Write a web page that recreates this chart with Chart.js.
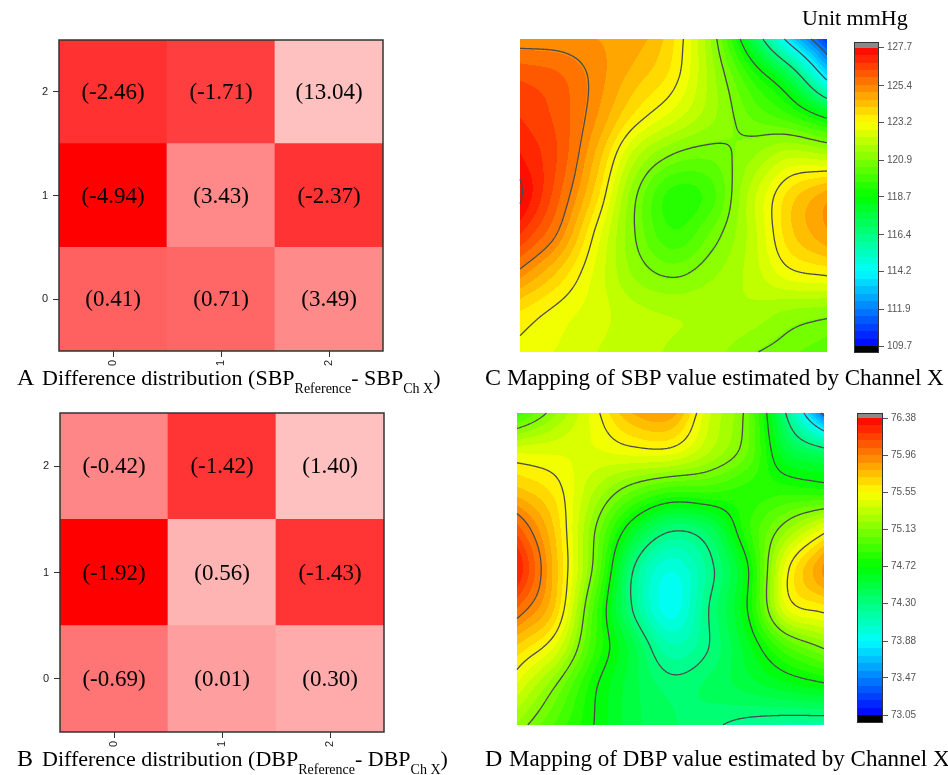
<!DOCTYPE html>
<html>
<head>
<meta charset="utf-8">
<script src="https://cdn.jsdelivr.net/npm/chart.js@4.4.1/dist/chart.umd.min.js"></script>
<style>
  body { margin: 0; background: #fff; }
  #wrap { position: relative; width: 948px; height: 775px; overflow: hidden; }
  canvas { position: absolute; }
  .cap { position: absolute; font-family: 'Liberation Serif', 'Times New Roman', serif; font-size: 22px; line-height: 22px; white-space: nowrap; color: #000; }
  .cap sub { font-size: 14px; vertical-align: -8px; line-height: 0; }
  .big { font-size: 24px; line-height: 24px; }
  .wide { font-size: 23px; line-height: 23px; }
</style>
</head>
<body>
<div id="wrap">
  <canvas id="heatA" width="400" height="375" style="left:0;top:0"></canvas>
  <canvas id="heatB" width="400" height="375" style="left:0;top:380px"></canvas>
  <canvas id="mapC" width="340" height="370" style="left:500px;top:0"></canvas>
  <canvas id="mapD" width="340" height="370" style="left:500px;top:380px"></canvas>
  <canvas id="barC" width="108" height="370" style="left:840px;top:0"></canvas>
  <canvas id="barD" width="108" height="370" style="left:840px;top:380px"></canvas>
  <div class="cap" style="left:802px;top:7px">Unit mmHg</div>
  <div class="cap big" style="left:17px;top:365px">A</div>
  <div class="cap" style="left:42px;top:367px">Difference distribution (SBP<sub>Reference</sub>- SBP<sub>Ch X</sub>)</div>
  <div class="cap big" style="left:485px;top:365px">C</div>
  <div class="cap wide" style="left:507px;top:366px">Mapping of SBP value estimated by Channel X</div>
  <div class="cap big" style="left:17px;top:746px">B</div>
  <div class="cap" style="left:42px;top:748px">Difference distribution (DBP<sub>Reference</sub>- DBP<sub>Ch X</sub>)</div>
  <div class="cap big" style="left:485px;top:746px">D</div>
  <div class="cap wide" style="left:509px;top:747px">Mapping of DBP value estimated by Channel X</div>
</div>
<script>
// channel positions (both axes of the heat maps)
var cells = ['0', '1', '2'];

// difference per cell, row 0 (bottom) first, columns 0..2
var sbpDiff = [
  [0.41, 0.71, 3.49],
  [-4.94, 3.43, -2.37],
  [-2.46, -1.71, 13.04]
];
var dbpDiff = [
  [-0.69, 0.01, 0.30],
  [-1.92, 0.56, -1.43],
  [-0.42, -1.42, 1.40]
];

// estimated values, rows from top to bottom, columns left to right
var gridPos = [0, 0.125, 0.25, 0.375, 0.5, 0.625, 0.75, 0.875, 1];
var sbpMap = [
  [125.1, 125.1, 125.0, 124.8, 123.7, 121.3, 117.7, 113.8, 110.6],
  [126.3, 126.0, 125.2, 124.3, 123.4, 121.6, 119.6, 117.6, 114.0],
  [126.8, 126.2, 125.0, 123.5, 122.5, 121.5, 120.5, 119.8, 118.6],
  [127.3, 126.3, 124.4, 122.0, 120.8, 120.6, 121.3, 122.2, 122.0],
  [127.8, 126.0, 123.8, 121.0, 119.4, 119.9, 122.0, 123.8, 124.8],
  [126.8, 125.3, 123.0, 120.9, 119.7, 120.6, 122.0, 123.9, 124.9],
  [125.2, 124.0, 122.6, 121.3, 120.8, 121.3, 122.0, 123.0, 123.3],
  [123.6, 123.0, 122.5, 122.0, 121.8, 121.8, 121.7, 121.3, 121.1],
  [123.0, 122.7, 122.3, 122.0, 121.8, 121.6, 121.0, 120.6, 120.2]
];
var dbpMap = [
  [74.90, 75.20, 75.50, 75.80, 75.85, 75.40, 75.08, 74.30, 73.40],
  [75.45, 75.45, 75.45, 75.50, 75.50, 75.30, 75.05, 74.55, 74.38],
  [75.75, 75.60, 75.30, 75.05, 74.90, 74.90, 74.85, 74.85, 74.82],
  [76.10, 75.70, 75.15, 74.62, 74.32, 74.42, 74.85, 75.20, 75.50],
  [76.30, 75.75, 75.10, 74.32, 73.98, 74.25, 74.70, 75.50, 75.90],
  [76.05, 75.70, 74.95, 74.30, 73.92, 74.30, 74.72, 75.45, 75.60],
  [75.70, 75.45, 74.90, 74.50, 74.15, 74.30, 74.60, 74.95, 75.15],
  [75.45, 75.13, 74.75, 74.50, 74.35, 74.40, 74.50, 74.60, 74.68],
  [75.20, 74.95, 74.72, 74.50, 74.40, 74.33, 74.25, 74.20, 74.18]
];

// colour bar ticks (also the contour levels)
var sbpTicks = [109.7, 111.9, 114.2, 116.4, 118.7, 120.9, 123.2, 125.4, 127.7];
var dbpTicks = [73.05, 73.47, 73.88, 74.30, 74.72, 75.13, 75.55, 75.96, 76.38];

var stops = [[0, 0, 255], [0, 255, 255], [0, 255, 0], [255, 255, 0], [255, 0, 0]];
function rainbow(t) {
  t = Math.min(Math.max(t, 0), 0.9999);
  t = (Math.floor(t * 40) + 0.5) / 40 * 4;
  var k = Math.min(Math.floor(t), 3), f = t - k;
  return stops[k].map(function (c, m) { return Math.round(c + (stops[k + 1][m] - c) * f); });
}

function cr(p0, p1, p2, p3, t) {
  return p1 + 0.5 * t * (p2 - p0 + t * (2 * p0 - 5 * p1 + 4 * p2 - p3 + t * (3 * (p1 - p2) + p3 - p0)));
}
function sample(g, u, w) {
  var n = g.length - 1;
  var step = gridPos[1] - gridPos[0];
  var fx = Math.min(Math.max(u / step, 0), n), fy = Math.min(Math.max(w / step, 0), n);
  var i = Math.min(Math.floor(fx), n - 1), j = Math.min(Math.floor(fy), n - 1);
  function at(r, c) {
    if (r < 0) return 2 * at(0, c) - at(1, c);
    if (r > n) return 2 * at(n, c) - at(n - 1, c);
    if (c < 0) return 2 * g[r][0] - g[r][1];
    if (c > n) return 2 * g[r][n] - g[r][n - 1];
    return g[r][c];
  }
  var rows = [];
  for (var k = -1; k <= 2; k++) {
    rows.push(cr(at(j + k, i - 1), at(j + k, i), at(j + k, i + 1), at(j + k, i + 2), fx - i));
  }
  return cr(rows[0], rows[1], rows[2], rows[3], fy - j);
}

function fieldPlugin(grid, levels) {
  var lo = levels[0], hi = levels[levels.length - 1];
  return {
    id: 'field',
    beforeDatasetsDraw: function (chart) {
      var ctx = chart.ctx, a = chart.chartArea, xs = chart.scales.x, ys = chart.scales.y;
      var x0 = Math.round(a.left), y0 = Math.round(a.top);
      var W = Math.round(a.right) - x0, H = Math.round(a.bottom) - y0;
      var f = new Float32Array((W + 1) * (H + 1));
      for (var j = 0; j <= H; j++) {
        for (var i = 0; i <= W; i++) {
          f[j * (W + 1) + i] = sample(grid, xs.getValueForPixel(x0 + i), ys.getValueForPixel(y0 + j));
        }
      }
      var img = ctx.createImageData(W, H);
      for (j = 0; j < H; j++) {
        for (i = 0; i < W; i++) {
          var v = (f[j * (W + 1) + i] + f[j * (W + 1) + i + 1] + f[(j + 1) * (W + 1) + i] + f[(j + 1) * (W + 1) + i + 1]) / 4;
          var c = rainbow((v - lo) / (hi - lo));
          var p = (j * W + i) * 4;
          img.data[p] = c[0]; img.data[p + 1] = c[1]; img.data[p + 2] = c[2]; img.data[p + 3] = 255;
        }
      }
      ctx.putImageData(img, x0, y0);

      ctx.save();
      ctx.beginPath();
      levels.forEach(function (L) {
        for (var j = 0; j < H; j++) {
          for (var i = 0; i < W; i++) {
            var q = [f[j * (W + 1) + i], f[j * (W + 1) + i + 1], f[(j + 1) * (W + 1) + i + 1], f[(j + 1) * (W + 1) + i]];
            var corner = [[i, j], [i + 1, j], [i + 1, j + 1], [i, j + 1]];
            var pts = [];
            for (var e = 0; e < 4; e++) {
              var a1 = q[e], a2 = q[(e + 1) % 4];
              if ((a1 < L) !== (a2 < L)) {
                var t = (L - a1) / (a2 - a1);
                var c1 = corner[e], c2 = corner[(e + 1) % 4];
                pts.push([x0 + c1[0] + (c2[0] - c1[0]) * t, y0 + c1[1] + (c2[1] - c1[1]) * t]);
              }
            }
            for (var m = 0; m + 1 < pts.length; m += 2) {
              ctx.moveTo(pts[m][0], pts[m][1]);
              ctx.lineTo(pts[m + 1][0], pts[m + 1][1]);
            }
          }
        }
      });
      ctx.strokeStyle = '#4a4a4a';
      ctx.lineWidth = 1.3;
      ctx.stroke();
      ctx.restore();
    }
  };
}

function mapChart(id, grid, levels, pad) {
  var pts = [];
  grid.forEach(function (row, j) {
    row.forEach(function (v, i) { pts.push({ x: gridPos[i], y: gridPos[j], v: v }); });
  });
  new Chart(document.getElementById(id), {
    type: 'scatter',
    data: { datasets: [{ data: pts, pointRadius: 0 }] },
    options: {
      responsive: false,
      animation: false,
      events: [],
      layout: { padding: pad },
      plugins: { legend: { display: false }, tooltip: { enabled: false } },
      scales: {
        x: { type: 'linear', min: 0, max: 1, display: false },
        y: { type: 'linear', min: 0, max: 1, reverse: true, display: false }
      }
    },
    plugins: [fieldPlugin(grid, levels)]
  });
}

function barChart(id, ticks, digits, yMin, yMax, pad, axisW) {
  var lo = ticks[0], hi = ticks[ticks.length - 1];
  new Chart(document.getElementById(id), {
    type: 'scatter',
    data: { datasets: [] },
    options: {
      responsive: false,
      animation: false,
      events: [],
      layout: { padding: pad },
      plugins: { legend: { display: false }, tooltip: { enabled: false } },
      scales: {
        x: { type: 'linear', min: 0, max: 1, display: false },
        y: {
          type: 'linear', position: 'right', min: yMin, max: yMax,
          afterBuildTicks: function (s) { s.ticks = ticks.map(function (v) { return { value: v }; }); },
          afterFit: function (s) { s.width = axisW; },
          grid: { drawOnChartArea: false, tickLength: 5, color: '#555' },
          border: { display: false },
          ticks: {
            padding: 3, color: '#555',
            font: { family: 'Liberation Sans', size: 10 },
            callback: function (v) { return v.toFixed(digits); }
          }
        }
      }
    },
    plugins: [{
      id: 'cbar',
      beforeDatasetsDraw: function (chart) {
        var ctx = chart.ctx, a = chart.chartArea, ys = chart.scales.y;
        for (var py = Math.floor(a.top); py < Math.ceil(a.bottom); py++) {
          var v = ys.getValueForPixel(py + 0.5);
          if (v > hi) ctx.fillStyle = '#8a8a8a';
          else if (v < lo) ctx.fillStyle = '#000';
          else ctx.fillStyle = 'rgb(' + rainbow((v - lo) / (hi - lo)).join(',') + ')';
          ctx.fillRect(a.left, py, a.right - a.left, 1);
        }
        ctx.strokeStyle = '#333';
        ctx.lineWidth = 1;
        ctx.strokeRect(a.left + 0.5, a.top + 0.5, a.right - a.left - 1, a.bottom - a.top - 1);
      }
    }]
  });
}

function heatChart(id, diff, pad, yW, xH) {
  var all = [].concat.apply([], diff);
  var lo = Math.min.apply(null, all), hi = Math.max.apply(null, all);
  function shade(v) {
    var t = (v - lo) / (hi - lo);
    var g = Math.round(192 * (1 - (1 - t) * (1 - t)));
    return 'rgb(255,' + g + ',' + g + ')';
  }
  var axisFont = { family: 'Liberation Sans', size: 11 };
  new Chart(document.getElementById(id), {
    type: 'bar',
    data: {
      labels: cells,
      datasets: diff.map(function (row, r) {
        return {
          data: row.map(function () { return [r - 0.5, r + 0.5]; }),
          backgroundColor: row.map(shade),
          grouped: false, barPercentage: 1, categoryPercentage: 1, borderWidth: 0
        };
      })
    },
    options: {
      responsive: false,
      animation: false,
      events: [],
      layout: { padding: pad },
      plugins: { legend: { display: false }, tooltip: { enabled: false } },
      scales: {
        x: {
          offset: true,
          afterFit: function (s) { s.height = xH; },
          grid: { offset: false, drawOnChartArea: false, tickLength: 6, color: '#333' },
          border: { display: false },
          ticks: { minRotation: 90, maxRotation: 90, padding: 3, color: '#222', font: axisFont }
        },
        y: {
          min: -0.5, max: 2.5,
          afterBuildTicks: function (s) { s.ticks = cells.map(function (c, i) { return { value: i }; }); },
          afterFit: function (s) { s.width = yW; },
          grid: { drawOnChartArea: false, tickLength: 6, color: '#333' },
          border: { display: false },
          ticks: { padding: 5, color: '#222', font: axisFont, callback: function (v) { return cells[Math.round(v)]; } }
        }
      }
    },
    plugins: [{
      id: 'cellText',
      afterDatasetsDraw: function (chart) {
        var ctx = chart.ctx, a = chart.chartArea, xs = chart.scales.x, ys = chart.scales.y;
        ctx.save();
        ctx.font = '23px "Liberation Serif"';
        ctx.fillStyle = '#000';
        ctx.textAlign = 'center';
        ctx.textBaseline = 'middle';
        diff.forEach(function (row, r) {
          row.forEach(function (v, c) {
            ctx.fillText('(' + v.toFixed(2) + ')', xs.getPixelForValue(c), ys.getPixelForValue(r) + 1);
          });
        });
        ctx.strokeStyle = '#333';
        ctx.lineWidth = 1.5;
        ctx.strokeRect(a.left, a.top, a.right - a.left, a.bottom - a.top);
        ctx.restore();
      }
    }]
  });
}

heatChart('heatA', sbpDiff, { top: 40, right: 17, left: 0, bottom: 0 }, 59, 24);
heatChart('heatB', dbpDiff, { top: 33, right: 16, left: 0, bottom: 0 }, 60, 23);
mapChart('mapC', sbpMap, sbpTicks, { left: 20, top: 39, right: 13, bottom: 18 });
mapChart('mapD', dbpMap, dbpTicks, { left: 17, top: 33, right: 16, bottom: 25 });
barChart('barC', sbpTicks, 1, 109.28, 128.04, { left: 14, top: 42, bottom: 17, right: 0 }, 69);
barChart('barD', dbpTicks, 2, 72.964, 76.436, { left: 17, top: 33, bottom: 27, right: 0 }, 65);
</script>
</body>
</html>
